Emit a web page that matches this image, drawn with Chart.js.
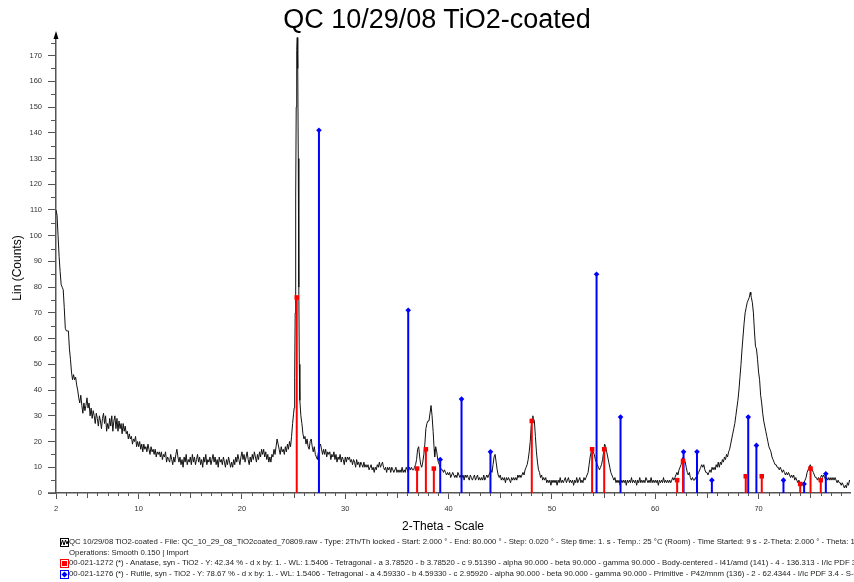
<!DOCTYPE html>
<html>
<head>
<meta charset="utf-8">
<script src="https://cdn.jsdelivr.net/npm/chart.js@4.4.1/dist/chart.umd.min.js"></script>
<style>
html, body { margin: 0; padding: 0; background: #fff; }
#wrap { position: relative; width: 854px; height: 582px; overflow: hidden; font-family: "Liberation Sans", Arial, sans-serif; }
#c { position: absolute; left: 0; top: 0; }
.title { position: absolute; top: 4px; left: 0; width: 874px; text-align: center; font-size: 27px; color: #000; }
.leg { position: absolute; left: 69px; font-size: 7.8px; line-height: 9px; white-space: nowrap; color: #222; }
.ico { position: absolute; left: 60px; width: 9px; height: 9px; }
</style>
</head>
<body>
<div id="wrap">
  <canvas id="c" width="854" height="582"></canvas>
  <div class="title">QC 10/29/08 TiO2-coated</div>

  <svg class="ico" style="top:538px" viewBox="0 0 9 9">
    <rect x="0.5" y="0.5" width="8" height="8" fill="none" stroke="#000"/>
    <polyline points="1,7 2.5,2 4,7 5.5,2 7,6 8,3" fill="none" stroke="#000" stroke-width="1"/>
  </svg>
  <div class="leg" style="top:537px">QC 10/29/08 TiO2-coated - File: QC_10_29_08_TiO2coated_70809.raw - Type: 2Th/Th locked - Start: 2.000 ° - End: 80.000 ° - Step: 0.020 ° - Step time: 1. s - Temp.: 25 °C (Room) - Time Started: 9 s - 2-Theta: 2.000 ° - Theta: 1.000 °</div>
  <div class="leg" style="top:548px">Operations: Smooth 0.150 | Import</div>

  <svg class="ico" style="top:559px" viewBox="0 0 9 9">
    <rect x="0.5" y="0.5" width="8" height="8" fill="#fff" stroke="#ff0000"/>
    <rect x="2" y="2" width="5" height="5" fill="#ff0000"/>
  </svg>
  <div class="leg" style="top:558px">00-021-1272 (*) - Anatase, syn - TiO2 - Y: 42.34 % - d x by: 1. - WL: 1.5406 - Tetragonal - a 3.78520 - b 3.78520 - c 9.51390 - alpha 90.000 - beta 90.000 - gamma 90.000 - Body-centered - I41/amd (141) - 4 - 136.313 - I/Ic PDF 3.3</div>

  <svg class="ico" style="top:570px" viewBox="0 0 9 9">
    <rect x="0.5" y="0.5" width="8" height="8" fill="#fff" stroke="#0000ff"/>
    <polygon points="4.5,1.5 7.5,4.5 4.5,7.5 1.5,4.5" fill="#0000ff"/>
  </svg>
  <div class="leg" style="top:569px">00-021-1276 (*) - Rutile, syn - TiO2 - Y: 78.67 % - d x by: 1. - WL: 1.5406 - Tetragonal - a 4.59330 - b 4.59330 - c 2.95920 - alpha 90.000 - beta 90.000 - gamma 90.000 - Primitive - P42/mnm (136) - 2 - 62.4344 - I/Ic PDF 3.4 - S-Q</div>
</div>

<script>
const scan = [
  [2.0,110],[2.1,108],[2.2,100],[2.3,92],[2.4,86],[2.5,81],[2.6,80],[2.7,79],[2.8,72],[2.9,64],
  [3.0,63],[3.1,63],[3.2,63],[3.3,56],[3.4,52],[3.5,47],[3.6,44],[3.7,46],[3.8,44],[3.9,45],
  [4.0,42],[4.1,40],[4.2,37],[4.3,35],[4.4,38],[4.5,34],[4.6,31],[4.7,35],[4.8,32],[4.9,34],
  [5.0,37],[5.1,33],[5.2,35],[5.3,30],[5.4,33],[5.5,29],[5.6,32],[5.7,30],[5.8,27],[5.9,31],
  [6.0,29],[6.1,26],[6.2,30],[6.3,28],[6.4,25],[6.5,29],[6.6,31],[6.7,27],[6.8,30],[6.9,24],
  [7.0,27],[7.1,25],[7.2,29],[7.3,26],[7.4,30],[7.5,24],[7.6,28],[7.7,30],[7.8,25],[7.9,29],
  [8.0,24],[8.1,28],[8.2,25],[8.3,27],[8.4,23],[8.5,27],[8.6,24],[8.7,26],[8.8,23],[8.9,24],
  [9.0,21],[9.1,23],[9.2,21],[9.3,22],[9.4,19],[9.5,21],[9.6,20],[9.7,22],[9.8,18],[9.9,20],
  [10.0,18],[10.1,20],[10.2,17],[10.3,19],[10.4,16],[10.5,19],[10.6,17],[10.7,18],[10.8,16],[10.9,19],
  [11.0,17],[11.1,15],[11.2,18],[11.3,16],[11.4,17],[11.5,15],[11.6,17],[11.7,14],[11.8,16],[11.9,15],
  [12.0,16],[12.1,14],[12.2,16],[12.3,13],[12.4,15],[12.5,14],[12.6,16],[12.7,12],[12.8,14],[12.9,13],
  [13.0,12],[13.1,15],[13.2,13],[13.3,11],[13.4,14],[13.5,12],[13.6,15],[13.7,17],[13.8,14],[13.9,12],
  [14.0,14],[14.1,11],[14.2,13],[14.3,10],[14.4,14],[14.5,12],[14.6,15],[14.7,11],[14.8,13],[14.9,12],
  [15.0,14],[15.1,11],[15.2,15],[15.3,12],[15.4,14],[15.5,11],[15.6,13],[15.7,15],[15.8,12],[15.9,14],
  [16.0,11],[16.1,13],[16.2,10],[16.3,14],[16.4,12],[16.5,15],[16.6,11],[16.7,13],[16.8,12],[16.9,14],
  [17.0,11],[17.1,13],[17.2,15],[17.3,12],[17.4,14],[17.5,11],[17.6,13],[17.7,10],[17.8,14],[17.9,12],
  [18.0,13],[18.1,11],[18.2,14],[18.3,12],[18.4,10],[18.5,13],[18.6,11],[18.7,14],[18.8,12],[18.9,10],
  [19.0,12],[19.1,10],[19.2,13],[19.3,11],[19.4,14],[19.5,12],[19.6,15],[19.7,13],[19.8,11],[19.9,14],
  [20.0,16],[20.1,13],[20.2,15],[20.3,12],[20.4,14],[20.5,16],[20.6,13],[20.7,11],[20.8,14],[20.9,12],
  [21.0,15],[21.1,13],[21.2,16],[21.3,14],[21.4,12],[21.5,15],[21.6,13],[21.7,16],[21.8,14],[21.9,17],
  [22.0,15],[22.1,17],[22.2,14],[22.3,16],[22.4,13],[22.5,15],[22.6,12],[22.7,14],[22.8,12],[22.9,15],
  [23.0,14],[23.1,17],[23.2,15],[23.3,18],[23.4,21],[23.5,19],[23.6,17],[23.7,15],[23.8,18],[23.9,16],
  [24.0,17],[24.1,15],[24.2,18],[24.3,16],[24.4,19],[24.5,17],[24.6,20],[24.7,18],[24.8,22],[24.9,27],
  [25.0,31],[25.05,33],[25.1,45],[25.15,70],[25.2,115],[25.25,150],[25.3,172],[25.35,177],[25.4,165],[25.45,130],
  [25.5,80],[25.55,50],[25.6,36],[25.7,30],[25.8,27],[25.9,23],[26.0,21],[26.1,22],[26.2,19],[26.3,21],
  [26.4,18],[26.5,17],[26.6,20],[26.7,21],[26.8,18],[26.9,16],[27.0,18],[27.1,15],[27.2,14],[27.3,13],
  [27.4,16],[27.5,18],[27.6,19],[27.7,17],[27.8,15],[27.9,17],[28.0,15],[28.1,17],[28.2,14],[28.3,16],
  [28.4,15],[28.5,16],[28.6,13],[28.7,15],[28.8,14],[28.9,16],[29.0,13],[29.1,15],[29.2,12],[29.3,14],
  [29.4,13],[29.5,15],[29.6,12],[29.7,14],[29.8,13],[29.9,11],[30.0,14],[30.1,12],[30.2,14],[30.3,13],
  [30.4,14],[30.5,12],[30.6,13],[30.7,11],[30.8,13],[30.9,12],[31.0,10],[31.1,13],[31.2,11],[31.3,12],
  [31.4,10],[31.5,12],[31.6,11],[31.7,10],[31.8,12],[31.9,10],[32.0,11],[32.1,10],[32.2,11],[32.3,9],
  [32.4,10],[32.5,11],[32.6,9],[32.7,10],[32.8,8],[32.9,10],[33.0,9],[33.1,11],[33.2,10],[33.3,12],
  [33.4,10],[33.5,11],[33.6,12],[33.7,10],[33.8,9],[33.9,10],[34.0,8],[34.1,10],[34.2,9],[34.3,10],
  [34.4,8],[34.5,10],[34.6,9],[34.7,8],[34.8,9],[34.9,10],[35.0,8],[35.1,9],[35.2,8],[35.3,9],
  [35.4,8],[35.5,10],[35.6,8],[35.7,9],[35.8,8],[35.9,10],[36.0,9],[36.1,8],[36.2,10],[36.3,9],
  [36.4,10],[36.5,9],[36.6,9],[36.7,10],[36.8,11],[36.9,13],[37.0,17],[37.1,18],[37.2,14],[37.3,11],
  [37.4,10],[37.5,12],[37.6,15],[37.7,19],[37.8,25],[37.9,27],[38.0,28],[38.1,28],[38.2,31],[38.3,34],
  [38.4,30],[38.5,24],[38.6,17],[38.65,14],[38.75,18],[38.85,16],[38.95,13],[39.0,12],[39.1,11],[39.2,10],
  [39.3,9],[39.4,9],[39.5,8],[39.6,9],[39.7,8],[39.8,7],[39.9,8],[40.0,7],[40.1,8],[40.2,6],
  [40.3,7],[40.4,8],[40.5,7],[40.6,6],[40.7,7],[40.8,6],[40.9,8],[41.0,7],[41.1,6],[41.2,7],
  [41.3,6],[41.4,7],[41.5,5],[41.6,7],[41.7,6],[41.8,7],[41.9,6],[42.0,5],[42.1,7],[42.2,6],
  [42.3,5],[42.4,6],[42.5,7],[42.6,5],[42.7,6],[42.8,7],[42.9,5],[43.0,6],[43.1,5],[43.2,6],
  [43.3,5],[43.4,7],[43.5,5],[43.6,6],[43.7,7],[43.8,6],[43.9,7],[44.0,8],[44.1,9],[44.2,8],
  [44.3,11],[44.4,14],[44.5,15],[44.6,12],[44.7,9],[44.8,7],[44.9,6],[45.0,7],[45.1,5],[45.2,6],
  [45.3,5],[45.4,6],[45.5,4],[45.6,6],[45.7,5],[45.8,6],[45.9,5],[46.0,4],[46.1,6],[46.2,5],
  [46.3,6],[46.4,5],[46.5,6],[46.6,5],[46.7,7],[46.8,6],[46.9,7],[47.0,6],[47.1,7],[47.2,8],
  [47.3,7],[47.4,9],[47.5,10],[47.6,11],[47.7,13],[47.8,16],[47.9,20],[48.0,26],[48.1,29],[48.15,30],
  [48.2,29],[48.3,28],[48.4,22],[48.5,16],[48.6,12],[48.7,9],[48.8,8],[48.9,6],[49.0,7],[49.1,5],
  [49.2,6],[49.3,5],[49.4,6],[49.5,4],[49.6,5],[49.7,4],[49.8,5],[49.9,3],[50.0,5],[50.1,4],
  [50.2,5],[50.3,4],[50.4,5],[50.5,3],[50.6,5],[50.7,4],[50.8,6],[50.9,4],[51.0,5],[51.1,4],
  [51.2,5],[51.3,6],[51.4,4],[51.5,5],[51.6,6],[51.7,4],[51.8,5],[51.9,4],[52.0,5],[52.1,3],
  [52.2,5],[52.3,4],[52.4,6],[52.5,4],[52.6,5],[52.7,6],[52.8,4],[52.9,5],[53.0,4],[53.1,6],
  [53.2,5],[53.3,6],[53.4,7],[53.5,8],[53.6,11],[53.7,14],[53.8,16],[53.9,17],[54.0,16],[54.1,15],
  [54.2,13],[54.3,12],[54.4,11],[54.5,10],[54.6,9],[54.7,10],[54.8,11],[54.9,13],[55.0,16],[55.1,19],
  [55.2,18],[55.3,16],[55.4,14],[55.5,12],[55.6,10],[55.7,8],[55.8,7],[55.9,6],[56.0,5],[56.1,6],
  [56.2,4],[56.3,5],[56.4,4],[56.5,5],[56.6,3],[56.7,5],[56.8,4],[56.9,5],[57.0,4],[57.1,5],
  [57.2,3],[57.3,5],[57.4,4],[57.5,5],[57.6,4],[57.7,6],[57.8,4],[57.9,5],[58.0,4],[58.1,5],
  [58.2,3],[58.3,5],[58.4,4],[58.5,6],[58.6,4],[58.7,5],[58.8,4],[58.9,5],[59.0,4],[59.1,6],
  [59.2,5],[59.3,4],[59.4,5],[59.5,4],[59.6,6],[59.7,4],[59.8,5],[59.9,4],[60.0,5],[60.1,4],
  [60.2,5],[60.3,3],[60.4,5],[60.5,4],[60.6,5],[60.7,4],[60.8,6],[60.9,4],[61.0,5],[61.1,4],
  [61.2,5],[61.3,4],[61.4,5],[61.5,4],[61.6,5],[61.7,6],[61.8,5],[61.9,6],[62.0,7],[62.1,8],
  [62.2,7],[62.3,9],[62.4,10],[62.5,11],[62.6,13],[62.7,14],[62.8,13],[62.9,12],[63.0,10],[63.1,8],
  [63.2,7],[63.3,8],[63.4,6],[63.5,5],[63.6,6],[63.7,5],[63.8,5],[63.9,6],[64.0,5],[64.1,7],
  [64.2,8],[64.3,9],[64.4,10],[64.5,11],[64.6,10],[64.7,11],[64.8,9],[64.9,8],[65.0,8],[65.1,7],
  [65.2,8],[65.3,9],[65.4,8],[65.5,10],[65.6,9],[65.7,10],[65.8,9],[65.9,11],[66.0,10],[66.1,12],
  [66.2,10],[66.3,12],[66.4,11],[66.5,13],[66.6,12],[66.7,14],[66.8,13],[66.9,15],[67.0,14],[67.1,16],
  [67.2,17],[67.3,19],[67.4,21],[67.5,23],[67.6,25],[67.7,27],[67.8,30],[67.9,33],[68.0,36],[68.1,40],
  [68.2,45],[68.3,50],[68.4,56],[68.5,61],[68.6,66],[68.7,70],[68.8,72],[68.9,74],[69.0,75],[69.1,76],
  [69.2,78],[69.25,77],[69.3,76],[69.4,74],[69.5,70],[69.6,63],[69.7,57],[69.8,56],[69.9,52],[70.0,47],
  [70.1,44],[70.2,38],[70.3,35],[70.4,31],[70.5,28],[70.6,26],[70.7,24],[70.8,22],[70.9,20],[71.0,18],
  [71.1,17],[71.2,16],[71.3,14],[71.4,13],[71.5,12],[71.6,11],[71.7,11],[71.8,10],[71.9,10],[72.0,9],
  [72.1,10],[72.2,9],[72.3,8],[72.4,9],[72.5,8],[72.6,7],[72.7,8],[72.8,7],[72.9,8],[73.0,7],
  [73.1,6],[73.2,7],[73.3,6],[73.4,7],[73.5,5],[73.6,6],[73.7,5],[73.8,4],[73.9,5],[74.0,4],
  [74.1,3],[74.2,4],[74.3,3],[74.4,4],[74.5,5],[74.6,6],[74.7,8],[74.8,9],[74.9,10],[75.0,11],
  [75.1,10],[75.2,9],[75.3,8],[75.4,7],[75.5,6],[75.6,6],[75.7,5],[75.8,6],[75.9,5],[76.0,6],
  [76.1,7],[76.2,6],[76.3,7],[76.4,6],[76.5,5],[76.6,6],[76.7,5],[76.8,6],[76.9,5],[77.0,6],
  [77.1,5],[77.2,6],[77.3,5],[77.4,6],[77.5,5],[77.6,4],[77.7,5],[77.8,4],[77.9,4],[78.0,3],
  [78.1,4],[78.2,3],[78.3,2],[78.4,3],[78.5,2],[78.6,4],[78.7,3],[78.8,5],[78.9,4],[79.0,5]
];

// reference patterns: peak position (2-theta) and stick height (counts)
const anataseTheta = [25.3, 36.95, 37.8, 38.57, 48.05, 53.89, 55.06, 62.12, 62.69, 68.76, 70.31, 74.03, 75.03, 76.02];
const anataseHeight = [76, 9.5, 17, 9.5, 28, 17, 17, 5, 12.5, 6.5, 6.5, 3.5, 9.5, 5];
const rutileTheta = [27.45, 36.09, 39.19, 41.25, 44.05, 54.32, 56.64, 62.74, 64.04, 65.48, 69.0, 69.79, 72.41, 74.41, 76.51];
const rutileHeight = [141, 71, 13, 36.5, 16, 85, 29.5, 16, 16, 5, 29.5, 18.5, 5, 3.5, 7.5];

const xTicks = [2, 10, 20, 30, 40, 50, 60, 70];
const yTicks = [0, 10, 20, 30, 40, 50, 60, 70, 80, 90, 100, 110, 120, 130, 140, 150, 160, 170];

function stickLines(xs, hs) {
  const pts = [];
  xs.forEach((x, i) => { pts.push({ x: x, y: 0 }, { x: x, y: hs[i] }, { x: x, y: null }); });
  return pts;
}
function stickTops(xs, hs) {
  return xs.map((x, i) => ({ x: x, y: hs[i] }));
}

const axisColor = '#555';

// minor ticks, axis arrow and axis titles
const decor = {
  id: 'decor',
  afterDraw(chart) {
    const { ctx, chartArea: a, scales: { x, y } } = chart;
    ctx.save();
    ctx.strokeStyle = axisColor;
    ctx.lineWidth = 1;
    ctx.beginPath();
    for (let v = 3; v <= 78; v++) {
      if (v % 10 === 0) continue;
      const px = Math.round(x.getPixelForValue(v)) + 0.5;
      ctx.moveTo(px, a.bottom);
      ctx.lineTo(px, a.bottom + (v % 5 === 0 ? 5 : 3));
    }
    for (let v = 5; v < 178; v += 10) {
      const py = Math.round(y.getPixelForValue(v)) + 0.5;
      ctx.moveTo(a.left - 5, py);
      ctx.lineTo(a.left, py);
    }
    ctx.stroke();
    ctx.lineWidth = 1.5;
    ctx.beginPath();
    ctx.moveTo(a.left - 8, a.bottom);
    ctx.lineTo(a.left, a.bottom);
    ctx.stroke();

    ctx.fillStyle = '#000';
    ctx.beginPath();
    ctx.moveTo(a.left, a.top - 4);
    ctx.lineTo(a.left - 2.5, a.top + 4);
    ctx.lineTo(a.left + 2.5, a.top + 4);
    ctx.closePath();
    ctx.fill();

    ctx.font = '12px "Liberation Sans", Arial, sans-serif';
    ctx.textAlign = 'center';
    ctx.textBaseline = 'middle';
    ctx.fillText('2-Theta - Scale', 443, a.bottom + 34);
    ctx.translate(18, 268);
    ctx.rotate(-Math.PI / 2);
    ctx.fillText('Lin (Counts)', 0, 0);
    ctx.restore();
  }
};

const ctx = document.getElementById('c').getContext('2d');
new Chart(ctx, {
  type: 'scatter',
  data: {
    datasets: [
      { data: stickTops(anataseTheta, anataseHeight), pointStyle: 'rect', pointRadius: 3.2, pointBackgroundColor: '#ff0000', pointBorderWidth: 0 },
      { data: stickTops(rutileTheta, rutileHeight), pointStyle: 'rectRot', pointRadius: 2.8, pointBackgroundColor: '#0000ff', pointBorderWidth: 0 },
      { data: stickLines(anataseTheta, anataseHeight), showLine: true, spanGaps: false, borderColor: '#ff0000', borderWidth: 2, pointRadius: 0 },
      { data: stickLines(rutileTheta, rutileHeight), showLine: true, spanGaps: false, borderColor: '#0000ff', borderWidth: 2, pointRadius: 0 },
      { data: scan.map(p => ({ x: p[0], y: p[1] })), showLine: true, borderColor: '#111', borderWidth: 1, pointRadius: 0, tension: 0 }
    ]
  },
  options: {
    responsive: false,
    animation: false,
    layout: { padding: { top: 35, right: 0, bottom: 0, left: 0 } },
    plugins: { legend: { display: false }, tooltip: { enabled: false } },
    scales: {
      x: {
        type: 'linear', min: 2, max: 78.85,
        afterBuildTicks: s => { s.ticks = xTicks.map(v => ({ value: v })); },
        afterFit: s => { s.height = 89; },
        grid: { display: true, drawOnChartArea: false, tickLength: 6, tickColor: axisColor, lineWidth: 1 },
        border: { display: true, color: axisColor, width: 1.5 },
        ticks: { font: { size: 7.5, family: '"Liberation Sans", Arial, sans-serif' }, color: '#333', padding: 5, maxRotation: 0, autoSkip: false }
      },
      y: {
        type: 'linear', min: 0, max: 178,
        afterBuildTicks: s => { s.ticks = yTicks.map(v => ({ value: v })); },
        afterFit: s => { s.width = 56; },
        grid: { display: true, drawOnChartArea: false, tickLength: 8, tickColor: axisColor, lineWidth: 1 },
        border: { display: true, color: axisColor, width: 1.5 },
        ticks: { font: { size: 7.5, family: '"Liberation Sans", Arial, sans-serif' }, color: '#333', padding: 6, autoSkip: false }
      }
    }
  },
  plugins: [decor]
});
</script>
</body>
</html>
